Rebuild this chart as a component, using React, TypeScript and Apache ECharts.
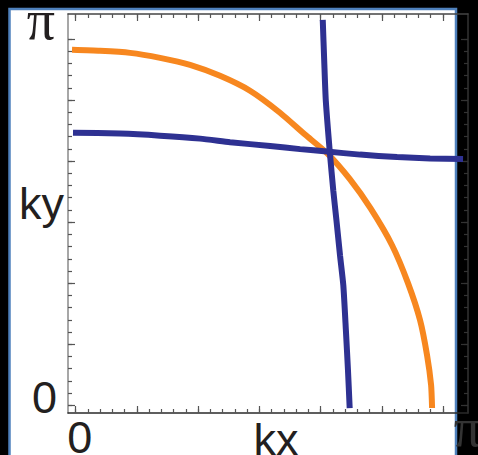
import { useEffect, useRef } from 'react';
import * as echarts from 'echarts';

// Fermi-surface contours in the first quadrant of the Brillouin zone, [kx, ky]
const orangeContour: [number, number][] = [
  [-0.03, 2.911], [0.199, 2.903], [0.444, 2.886], [0.689, 2.845], [0.934, 2.788],
  [1.179, 2.698], [1.424, 2.576], [1.669, 2.396], [1.873, 2.217], [2.053, 2.065],
  [2.241, 1.85], [2.409, 1.612], [2.584, 1.311], [2.715, 0.999], [2.813, 0.697],
  [2.87, 0.411], [2.903, 0.166], [2.911, -0.022],
];

const blueContourH: [number, number][] = [
  [-0.022, 2.233], [0.362, 2.225], [0.689, 2.208], [1.016, 2.184], [1.261, 2.155],
  [1.588, 2.123], [1.833, 2.098], [2.053, 2.078], [2.323, 2.053], [2.625, 2.033],
  [2.895, 2.022], [3.164, 2.018],
];

const blueContourV: [number, number][] = [
  [2.018, 3.156], [2.03, 2.821], [2.043, 2.494], [2.076, 2.069], [2.104, 1.759],
  [2.13, 1.514], [2.159, 1.228], [2.186, 0.983], [2.207, 0.615], [2.224, 0.289],
  [2.238, -0.022],
];

// Frame ticks: minor every 0.1, major every 0.5, labels at 0 and π
const minorTicks = Array.from({ length: 31 }, (_, i) => i / 10);
const majorTicks = [0, 0.5, 1, 1.5, 2, 2.5, 3];
const edgeTicks = [0, Math.PI];
const edgeLabels = ['0', 'π'];

const PAD = 0.02 * Math.PI;
const AXIS_MIN = -PAD;
const AXIS_MAX = Math.PI + PAD;

const TEXT = '#231F20';
const SANS = 'Liberation Sans';
const SERIF = 'Liberation Serif';

const edgeFormatter = (v: number) => (Math.abs(v) < 1e-9 ? `{n|${edgeLabels[0]}}` : `{p|${edgeLabels[1]}}`);

function frameAxis(
  position: string,
  ticks: number[],
  tickLen: number,
  lineColor: string | null,
  tickColor: string,
  extra: Record<string, unknown> = {}
) {
  return {
    type: 'value',
    position,
    min: AXIS_MIN,
    max: AXIS_MAX,
    axisLine: lineColor
      ? { show: true, onZero: false, lineStyle: { color: lineColor, width: 1.5 } }
      : { show: false, onZero: false },
    axisTick: {
      show: true,
      inside: true,
      length: tickLen,
      customValues: ticks,
      lineStyle: { color: tickColor, width: 1.2 },
    },
    axisLabel: { show: false },
    splitLine: { show: false },
    ...extra,
  };
}

const contourLine = (data: [number, number][], color: string, z: number) => ({
  type: 'line',
  xAxisIndex: 0,
  yAxisIndex: 0,
  data,
  smooth: 0.2,
  showSymbol: false,
  lineStyle: { color, width: 6 },
  z,
});

export default function App() {
  const ref = useRef<HTMLDivElement>(null);

  useEffect(() => {
    if (!ref.current) return;
    const chart = echarts.init(ref.current, undefined, { renderer: 'svg' });

    chart.setOption({
      animation: false,
      backgroundColor: '#000',
      graphic: [
        {
          type: 'rect',
          z: -10,
          silent: true,
          shape: { x: 9.5, y: 9, width: 446.5, height: 470 },
          style: { fill: '#fff', stroke: '#4F81BD', lineWidth: 2.5 },
        },
      ],
      grid: {
        left: 68,
        top: 14,
        width: 400,
        height: 399,
        containLabel: false,
        outerBoundsMode: 'none',
      },
      xAxis: [
        frameAxis('bottom', minorTicks, 4, '#2a2a2a', '#555', {
          axisLabel: {
            show: true,
            customValues: edgeTicks,
            margin: 2,
            formatter: edgeFormatter,
            rich: {
              n: { fontSize: 45, fontFamily: SANS, color: TEXT, padding: [0, 0, 0, 8] },
              p: {
                fontSize: 54,
                fontFamily: SERIF,
                color: '#333',
                lineHeight: 26,
                padding: [0, 0, 0, 14],
              },
            },
          },
          name: 'kx',
          nameLocation: 'middle',
          nameGap: 4,
          nameMoveOverlap: false,
          nameTextStyle: {
            fontSize: 45,
            fontFamily: SANS,
            color: TEXT,
            padding: [0, 0, 0, 16],
            verticalAlign: 'top',
          },
        }),
        frameAxis('bottom', majorTicks, 7, null, '#555'),
        frameAxis('top', minorTicks, 4, '#444', '#555'),
        frameAxis('top', majorTicks, 7, null, '#555'),
      ],
      yAxis: [
        frameAxis('left', minorTicks, 4, '#8a8a8a', '#555', {
          axisLabel: {
            show: true,
            customValues: edgeTicks,
            margin: 11,
            formatter: edgeFormatter,
            rich: {
              n: { fontSize: 45, fontFamily: SANS, color: TEXT, padding: [0, 0, 16, 0] },
              p: { fontSize: 56, fontFamily: SERIF, color: TEXT, padding: [0, 2, 4, 0] },
            },
          },
          name: 'ky',
          nameLocation: 'middle',
          nameRotate: 0,
          nameGap: 4,
          nameMoveOverlap: false,
          nameTextStyle: {
            fontSize: 45,
            fontFamily: SANS,
            color: TEXT,
            verticalAlign: 'bottom',
            lineHeight: 20,
          },
        }),
        frameAxis('left', majorTicks, 7, null, '#555'),
        frameAxis('right', minorTicks, 4, '#333', '#333'),
        frameAxis('right', majorTicks, 7, null, '#333'),
      ],
      series: [
        contourLine(orangeContour, '#F7871F', 2),
        contourLine(blueContourH, '#2E3192', 3),
        contourLine(blueContourV, '#2E3192', 3),
      ],
    });

    return () => chart.dispose();
  }, []);

  return (
    <div
      ref={ref}
      style={{ position: 'fixed', left: 0, top: 0, width: 478, height: 455, background: '#000' }}
    />
  );
}
